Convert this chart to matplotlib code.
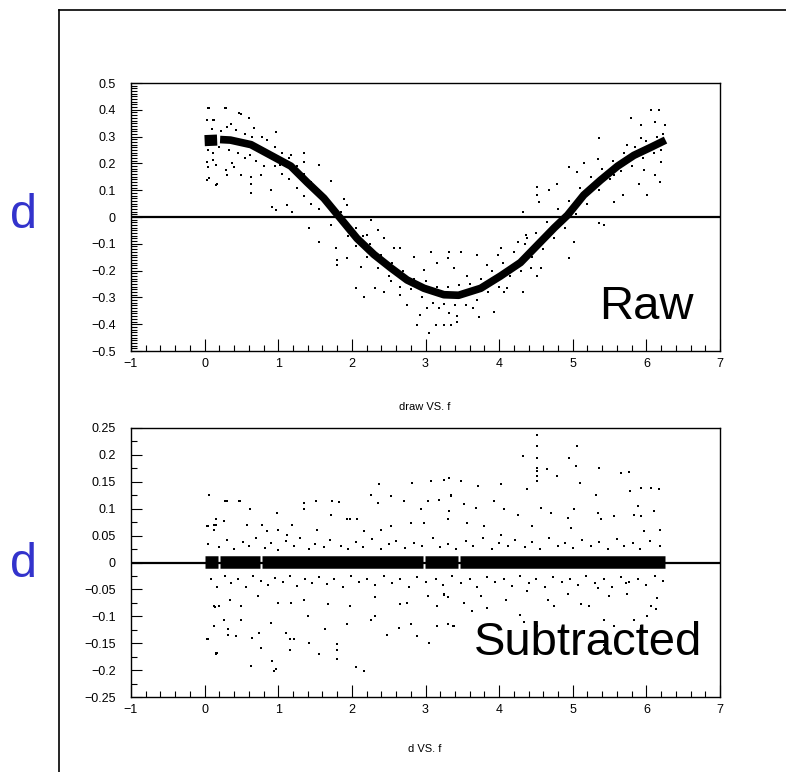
import matplotlib
matplotlib.use('Agg')
import matplotlib.pyplot as plt
from matplotlib.lines import Line2D
from matplotlib.ticker import MultipleLocator, FuncFormatter

plt.rcParams['font.family'] = ['Liberation Sans', 'DejaVu Sans']

# --- raw: dense band centre (f, d)
raw_band_f = [0.21, 0.35, 0.63, 0.90, 1.17, 1.39, 1.62, 1.83, 2.07, 2.30, 2.53, 2.75,
              2.98, 3.25, 3.45, 3.75, 4.02, 4.29, 4.52, 4.75, 4.93, 5.15, 5.38, 5.61,
              5.83, 6.06, 6.26]
raw_band_d = [0.289, 0.287, 0.27, 0.23, 0.19, 0.13, 0.07, 0.0, -0.08, -0.14, -0.19, -0.235,
              -0.266, -0.29, -0.292, -0.266, -0.22, -0.17, -0.105, -0.04, 0.007, 0.082, 0.138, 0.19,
              0.23, 0.26, 0.287]
raw_band0_f = [0.0, 0.17]
raw_band0_d = [0.285, 0.287]

# raw: scattered points far from the band
raw_f = [0.06, 0.285, 0.127, 0.027, 0.49, 0.60, 0.353, 0.67, 0.78, 0.965, 0.85, 0.027,
         0.15, 0.027, 0.15, 0.17, 0.31, 0.40, 0.49, 0.625, 0.76, 0.90, 0.92, 0.965,
         1.12, 1.19, 1.35, 1.35, 1.55, 1.17, 1.03, 1.71, 1.89, 1.94, 1.42, 1.55,
         1.78, 1.80, 1.80, 1.94, 2.05, 2.17, 2.12, 2.32, 2.35, 2.44, 2.44, 2.21,
         2.26, 2.57, 2.66, 2.84, 3.07, 3.32, 3.16, 2.98, 2.66, 2.75, 2.93, 2.89,
         3.05, 3.14, 3.25, 3.18, 3.32, 3.43, 3.02, 2.53,
         3.30, 3.48, 3.70, 3.39, 3.57, 3.84, 4.02, 4.25, 4.11, 4.32, 3.93, 3.73,
         3.34, 3.43, 3.64, 4.52, 4.43, 4.57, 4.38, 4.36, 4.32, 4.52, 4.52, 4.54,
         4.68, 4.79, 4.95, 5.02, 5.06, 4.95, 5.15, 5.34, 5.36, 5.43, 5.56, 5.68,
         5.56, 5.79, 5.93, 6.06, 6.17, 6.12, 6.25, 5.74, 5.93, 6.01, 5.90, 6.12,
         6.18, 5.97, 6.20, 5.68, 5.36, 4.25, 4.07, 3.98,
         0.04, 0.06, 0.15, 0.12, 0.27, 0.625, 0.625, 0.625, 0.29, 0.47, 0.04, 0.12,
         0.37]
raw_d = [0.405, 0.406, 0.362, 0.362, 0.383, 0.37, 0.346, 0.333, 0.30, 0.318, 0.287, 0.206,
         0.194, 0.138, 0.12, 0.125, 0.157, 0.188, 0.157, 0.088, 0.157, 0.10, 0.038, 0.025,
         0.044, 0.02, 0.238, 0.206, 0.194, 0.23, 0.194, 0.135, 0.066, 0.044, -0.042, -0.092,
         -0.117, -0.16, -0.179, -0.154, -0.266, -0.30, -0.185, -0.266, -0.048, -0.079, -0.279, -0.067,
         -0.011, -0.117, -0.117, -0.148, -0.129, -0.129, -0.173, -0.198, -0.291, -0.328, -0.366, -0.403,
         -0.434, -0.403, -0.403, -0.34, -0.358, -0.37, -0.34, -0.24,
         -0.154, -0.129, -0.142, -0.19, -0.22, -0.179, -0.117, -0.092, -0.266, -0.279, -0.353, -0.372,
         -0.403, -0.39, -0.34, -0.22, -0.19, -0.19, -0.08, -0.068, 0.02, 0.113, 0.082, 0.057,
         0.10, 0.125, -0.154, -0.092, 0.169, 0.188, 0.20, 0.218, 0.293, -0.03, 0.057, 0.082,
         0.157, 0.368, 0.343, 0.399, 0.399, 0.355, 0.343, 0.268, 0.293, 0.082, 0.125, 0.157,
         0.131, 0.175, 0.206, 0.206, -0.024, -0.167, -0.279, -0.142,
         0.405, 0.144, 0.119, 0.362, 0.405, 0.088, 0.125, 0.15, 0.176, 0.387, 0.188, 0.213,
         0.20]

# raw: points hugging the band
raw_near_f = [0.10, 0.22, 0.30, 0.42, 0.55, 0.65, 0.05, 0.12, 0.20, 0.33, 0.45, 0.55,
              0.70, 0.80, 0.62, 0.95, 1.05, 1.15, 1.25, 1.35, 1.45, 1.55, 1.65, 1.75,
              1.85, 0.95, 1.05, 1.15, 1.25, 1.35, 1.45, 1.55, 1.65, 1.72, 1.95, 2.05,
              2.15, 2.25, 2.40, 2.55, 2.70, 2.85, 3.00, 3.15, 3.30, 3.45, 1.95, 2.05,
              2.20, 2.35, 2.50, 2.65, 2.80, 2.95, 3.10, 3.25, 3.40, 3.55, 3.60, 3.75,
              3.90, 4.05, 4.20, 4.35, 4.50, 4.65, 4.80, 4.95, 5.10, 5.25, 5.40, 5.55,
              5.70, 5.85, 6.00, 6.15, 6.22, 3.70, 3.85, 4.00, 4.15, 4.30, 4.45, 4.60,
              4.75, 4.90, 5.05, 5.20, 5.35, 5.50, 5.65, 5.80, 5.95, 6.10, 6.20]
raw_near_d = [0.33, 0.32, 0.335, 0.325, 0.31, 0.30, 0.25, 0.24, 0.26, 0.25, 0.24, 0.22,
              0.21, 0.19, 0.23, 0.26, 0.24, 0.22, 0.19, 0.16, 0.13, 0.10, 0.07, 0.04,
              0.02, 0.19, 0.16, 0.14, 0.11, 0.08, 0.05, 0.03, 0.0, -0.03, 0.0, -0.04,
              -0.07, -0.10, -0.14, -0.17, -0.20, -0.23, -0.24, -0.26, -0.26, -0.255, -0.07, -0.11,
              -0.15, -0.19, -0.22, -0.26, -0.27, -0.30, -0.32, -0.325, -0.33, -0.33, -0.25, -0.23,
              -0.20, -0.17, -0.13, -0.10, -0.06, -0.02, 0.03, 0.06, 0.11, 0.15, 0.18, 0.21,
              0.24, 0.26, 0.285, 0.30, 0.31, -0.31, -0.28, -0.26, -0.22, -0.20, -0.15, -0.12,
              -0.08, -0.04, 0.01, 0.05, 0.10, 0.14, 0.17, 0.19, 0.22, 0.24, 0.25]

# --- subtracted: dense band segments along zero
sub_seg_start = [0.0, 0.21, 0.78, 2.99, 3.47]
sub_seg_end = [0.18, 0.75, 2.96, 3.44, 6.25]

# subtracted: scattered points
sub_f = [0.06, 0.03, 0.13, 0.13, 0.15, 0.26, 0.30, 0.48, 0.62, 0.58, 0.78, 0.98,
         1.12, 1.19, 1.35, 1.35, 1.51, 1.73, 1.82, 1.71, 1.94, 2.07, 2.26, 2.37,
         2.35, 2.53, 2.71, 2.82, 2.94, 3.03, 3.07, 3.18, 3.32, 3.34, 3.32, 2.80,
         2.98, 2.53, 2.39, 2.16, 1.98, 1.53, 0.99, 0.85,
         0.03, 0.15, 0.17, 0.13, 0.13, 0.26, 0.32, 0.32, 0.42, 0.49, 0.625, 0.65,
         0.74, 0.77, 0.90, 0.92, 0.94, 0.965, 1.10, 1.16, 1.16, 1.21, 1.40, 1.42,
         1.55, 1.64, 1.80, 1.80, 1.80, 1.94, 2.05, 2.16, 2.26, 2.32, 2.48, 2.64,
         2.80, 2.89, 3.05, 3.16, 3.16, 3.37, 3.30, 3.25, 2.32, 1.98, 1.67, 1.35,
         0.99, 0.72, 0.35, 0.19, 0.49, 1.17, 2.66, 2.75, 3.03,
         4.52, 4.52, 4.52, 4.52, 4.52, 4.52, 4.52, 5.06, 4.32, 4.95, 5.05, 4.65,
         5.36, 5.65, 5.77, 3.25, 3.48, 3.71, 4.02, 4.38, 4.79, 5.10, 5.32, 5.78,
         5.93, 6.06, 6.17, 5.88, 6.11, 5.93, 5.83, 5.56, 5.38, 5.34, 5.02, 4.93,
         4.97, 4.57, 4.70, 4.45, 4.25, 4.07, 3.93, 3.68, 3.52, 3.34, 3.30, 3.57,
         3.80, 4.02, 6.19, 5.97,
         3.30, 3.39, 3.52, 3.63, 3.84, 4.09, 4.29, 4.34, 4.52, 4.66, 4.75, 4.93,
         5.11, 5.22, 5.43, 5.49, 5.74, 5.83, 6.01, 6.06, 6.13, 6.15, 5.93, 5.56,
         5.43, 6.01, 3.25, 3.75, 4.38, 5.34, 5.72,
         0.27, 0.47, 0.04, 0.15, 0.14, 0.04, 0.15]
sub_d = [0.126, 0.067, 0.070, 0.061, 0.08, 0.077, 0.114, 0.114, 0.099, 0.070, 0.069, 0.092,
         0.052, 0.07, 0.111, 0.099, 0.114, 0.114, 0.112, 0.089, 0.08, 0.08, 0.126, 0.145,
         0.111, 0.123, 0.114, 0.148, 0.099, 0.114, 0.151, 0.117, 0.157, 0.126, 0.095, 0.073,
         0.073, 0.067, 0.061, 0.058, 0.08, 0.061, 0.061, 0.058,
         -0.143, -0.171, -0.168, -0.118, -0.081, -0.106, -0.124, -0.134, -0.137, -0.106, -0.193, -0.140,
         -0.131, -0.159, -0.112, -0.183, -0.201, -0.198, -0.131, -0.143, -0.162, -0.143, -0.10, -0.149,
         -0.171, -0.124, -0.152, -0.162, -0.18, -0.115, -0.195, -0.202, -0.106, -0.10, -0.134, -0.121,
         -0.115, -0.137, -0.149, -0.118, -0.081, -0.118, -0.064, -0.058, -0.064, -0.081, -0.078, -0.069,
         -0.075, -0.062, -0.069, -0.081, -0.081, -0.075, -0.078, -0.075, -0.062,
         0.237, 0.216, 0.194, 0.176, 0.170, 0.160, 0.151, 0.216, 0.198, 0.194, 0.179, 0.173,
         0.176, 0.166, 0.169, 0.154, 0.151, 0.142, 0.145, 0.136, 0.160, 0.148, 0.126, 0.132,
         0.139, 0.139, 0.136, 0.105, 0.095, 0.086, 0.089, 0.086, 0.08, 0.092, 0.099, 0.083,
         0.064, 0.101, 0.092, 0.067, 0.089, 0.099, 0.114, 0.101, 0.108, 0.123, 0.08, 0.074,
         0.067, 0.052, 0.061, 0.058,
         -0.115, -0.118, -0.075, -0.09, -0.084, -0.069, -0.097, -0.11, -0.118, -0.069, -0.081, -0.058,
         -0.078, -0.081, -0.106, -0.062, -0.059, -0.106, -0.1, -0.081, -0.087, -0.066, -0.118, -0.118,
         -0.153, -0.171, -0.06, -0.062, -0.053, -0.047, -0.038,
         0.114, 0.114, 0.068, 0.07, -0.082, -0.143, -0.169]

# subtracted: points just outside the dense band
sub_near_f = [0.05, 0.20, 0.30, 0.40, 0.52, 0.60, 0.70, 0.82, 0.90, 1.00, 1.10, 1.22,
              1.30, 1.42, 1.50, 1.62, 1.70, 1.85, 1.95, 2.05, 2.15, 2.28, 2.40, 2.50,
              2.60, 2.72, 2.85, 2.95, 3.10, 3.20, 3.30, 3.42, 3.55, 3.65, 3.78, 3.90,
              4.00, 4.12, 4.22, 4.35, 4.45, 4.55, 4.68, 4.80, 4.90, 5.00, 5.12, 5.25,
              5.35, 5.48, 5.60, 5.70, 5.82, 5.92, 6.05, 6.18,
              0.08, 0.17, 0.27, 0.36, 0.46, 0.56, 0.66, 0.76, 0.86, 0.96, 1.06, 1.16,
              1.26, 1.36, 1.46, 1.56, 1.66, 1.76, 1.88, 1.99, 2.10, 2.20, 2.32, 2.44,
              2.55, 2.66, 2.77, 2.88, 3.00, 3.14, 3.24, 3.36, 3.48, 3.60, 3.70, 3.83,
              3.95, 4.06, 4.17, 4.28, 4.40, 4.50, 4.62, 4.73, 4.85, 4.96, 5.07, 5.18,
              5.30, 5.42, 5.53, 5.65, 5.77, 5.88, 6.00, 6.12, 6.22]
sub_near_d = [0.035, 0.028, 0.042, 0.025, 0.038, 0.03, 0.045, 0.027, 0.036, 0.024, 0.04, 0.03,
              0.046, 0.026, 0.035, 0.028, 0.042, 0.03, 0.025, 0.038, 0.029, 0.044, 0.026, 0.034,
              0.04, 0.027, 0.036, 0.03, 0.045, 0.028, 0.035, 0.025, 0.04, 0.03, 0.046, 0.026,
              0.036, 0.03, 0.042, 0.028, 0.038, 0.025, 0.045, 0.03, 0.036, 0.027, 0.042, 0.03,
              0.038, 0.026, 0.044, 0.03, 0.036, 0.025, 0.04, 0.03,
              -0.03, -0.045, -0.025, -0.038, -0.03, -0.046, -0.026, -0.035, -0.042, -0.028, -0.036, -0.025,
              -0.044, -0.03, -0.038, -0.027, -0.04, -0.03, -0.046, -0.026, -0.036, -0.03, -0.042, -0.025,
              -0.038, -0.03, -0.045, -0.027, -0.036, -0.03, -0.042, -0.026, -0.038, -0.03, -0.045, -0.027,
              -0.036, -0.03, -0.044, -0.025, -0.038, -0.03, -0.045, -0.027, -0.036, -0.03, -0.042, -0.026,
              -0.038, -0.03, -0.046, -0.027, -0.036, -0.03, -0.042, -0.026, -0.035]

x_ticks = [-1, 0, 1, 2, 3, 4, 5, 6, 7]

fig = plt.figure(figsize=(7.86, 7.72), dpi=100)

# outer slide frame (left and top edges)
fig.add_artist(Line2D([59 / 786, 59 / 786], [0, 1 - 10 / 772], color='black', lw=1.2))
fig.add_artist(Line2D([59 / 786, 1], [1 - 10 / 772, 1 - 10 / 772], color='black', lw=1.2))

ax1 = fig.add_axes([131 / 786, 1 - 351 / 772, 589 / 786, 268 / 772])
ax2 = fig.add_axes([131 / 786, 1 - 697 / 772, 589 / 786, 269 / 772])


def fmt(v, pos):
    s = '%g' % round(v, 3)
    return s.replace('-', '\u2212')


for ax in (ax1, ax2):
    ax.set_xlim(-1, 7)
    ax.axhline(0, color='black', lw=1.6, zorder=1)
    ax.xaxis.set_major_locator(MultipleLocator(1))
    ax.xaxis.set_minor_locator(MultipleLocator(0.2))
    ax.xaxis.set_major_formatter(FuncFormatter(fmt))
    ax.yaxis.set_major_formatter(FuncFormatter(fmt))
    ax.tick_params(which='both', direction='in', top=False, right=False, width=0.8,
                   labelsize=9, color='black')
    ax.tick_params(axis='x', which='major', length=8.5, pad=5)
    ax.tick_params(axis='x', which='minor', length=4.3)
    ax.tick_params(axis='y', which='major', length=8, pad=11)
    ax.tick_params(axis='y', which='minor', length=4.3)
    for sp in ax.spines.values():
        sp.set_linewidth(1.0)

ax1.set_ylim(-0.5, 0.5)
ax1.yaxis.set_major_locator(MultipleLocator(0.1))
ax1.yaxis.set_minor_locator(MultipleLocator(0.01))
ax1.plot(raw_band_f, raw_band_d, color='black', lw=5.5, solid_capstyle='butt', zorder=3)
ax1.plot(raw_band0_f, raw_band0_d, color='black', lw=8, solid_capstyle='butt', zorder=3)
ax1.scatter(raw_f, raw_d, s=2.5, marker='s', color='black', linewidths=0, zorder=3)
ax1.scatter(raw_near_f, raw_near_d, s=2.5, marker='s', color='black', linewidths=0, zorder=3)
ax1.text(0.955, 0.12, 'Raw', transform=ax1.transAxes, ha='right', va='baseline',
         fontsize=34)

ax2.set_ylim(-0.25, 0.25)
ax2.yaxis.set_major_locator(MultipleLocator(0.05))
ax2.yaxis.set_minor_locator(MultipleLocator(0.025))
for a, b in zip(sub_seg_start, sub_seg_end):
    ax2.plot([a, b], [0.001, 0.001], color='black', lw=9, solid_capstyle='butt', zorder=3)
ax2.scatter(sub_f, sub_d, s=2.5, marker='s', color='black', linewidths=0, zorder=3)
ax2.scatter(sub_near_f, sub_near_d, s=2.5, marker='s', color='black', linewidths=0, zorder=3)
ax2.text(0.97, 0.155, 'Subtracted', transform=ax2.transAxes, ha='right', va='baseline',
         fontsize=34)

for ax in (ax1, ax2):
    ax.set_xticks(x_ticks)

fig.text(425 / 786, 1 - 407 / 772, 'draw VS. f', ha='center', va='center', fontsize=8)
fig.text(425 / 786, 1 - 749 / 772, 'd VS. f', ha='center', va='center', fontsize=8)

fig.text(24 / 786, 1 - 228 / 772, 'd', ha='center', va='baseline', fontsize=35, color='#3333cc')
fig.text(24 / 786, 1 - 577 / 772, 'd', ha='center', va='baseline', fontsize=35, color='#3333cc')

fig.savefig('out.png', dpi=100, facecolor='white')
